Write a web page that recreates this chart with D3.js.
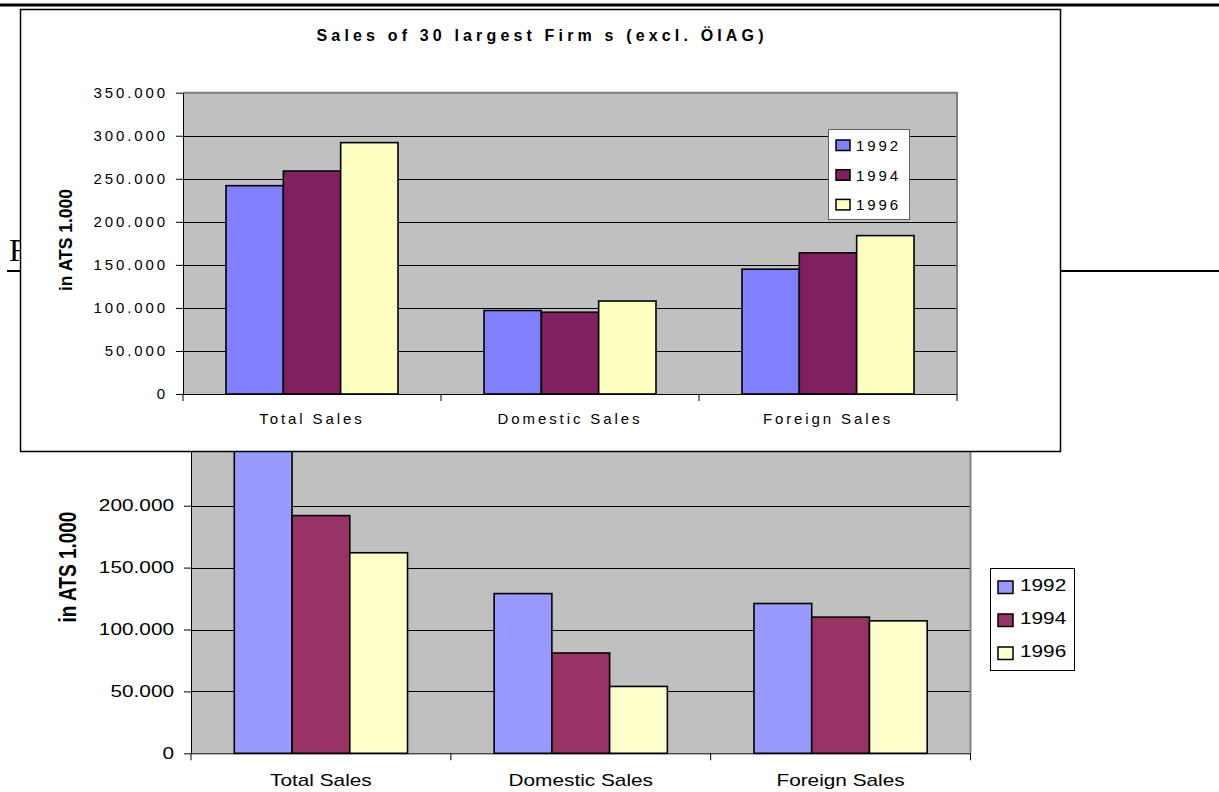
<!DOCTYPE html>
<html><head><meta charset="utf-8">
<script src="https://cdn.jsdelivr.net/npm/d3@7"></script>
<style>body{margin:0;background:#fff} svg{display:block}</style>
</head><body>
<svg id="c" width="1219" height="792"></svg>
<script>
// ---------- DATA ----------
const categories = ["Total Sales", "Domestic Sales", "Foreign Sales"];
const years = ["1992", "1994", "1996"];
// Top chart: Sales of 30 largest firms (excl. ÖIAG), in ATS 1.000
const top1992 = [242000, 97000, 145000];
const top1994 = [259000, 95000, 164000];
const top1996 = [292000, 108000, 184000];
// Bottom (partly hidden) chart
const bot1992 = [250000, 129000, 121000];
const bot1994 = [192000, 81000, 110000];
const bot1996 = [162000, 54000, 107000];
const topTicks = [0, 50000, 100000, 150000, 200000, 250000, 300000, 350000];
const botTicks = [0, 50000, 100000, 150000, 200000, 250000, 300000];
const topTitle = "Sales of 30 largest Firm s (excl. ÖIAG)";
const yTitle = "in ATS 1.000";
const pageLetter = "F";
const topColors = ["#8080FF", "#802060", "#FFFFC0"];
const botColors = ["#9999FF", "#993366", "#FFFFCC"];

const loc = d3.formatLocale({decimal: ",", thousands: ".", grouping: [3], currency: ["", ""]});
const fmt = loc.format(",d");
const FONT = "'Liberation Sans', Arial, sans-serif";

const svg = d3.select("#c");

function stretchX(sel, k) {
  sel.each(function () {
    const x = +(this.getAttribute("x") || 0);
    d3.select(this).attr("transform", `translate(${x * (1 - k)},0) scale(${k},1)`);
  });
}

// ---------- page background ----------
svg.append("line").attr("x1", 0).attr("x2", 1219).attr("y1", 5).attr("y2", 5)
  .attr("stroke", "#000").attr("stroke-width", 3);
svg.append("line").attr("x1", 7).attr("x2", 1219).attr("y1", 271).attr("y2", 271)
  .attr("stroke", "#000").attr("stroke-width", 2);
svg.append("text").attr("x", 9).attr("y", 261).text(pageLetter)
  .attr("font-family", "'Liberation Serif', 'Times New Roman', serif").attr("font-size", 32);

// ---------- generic chart ----------
function drawChart(g, o) {
  const y = d3.scaleLinear().domain([0, o.max]).range([o.y0, o.y1]);
  const x = d3.scaleBand().domain(categories).range([o.x0, o.x1]);
  const xs = d3.scaleBand().domain(years).range([0, x.bandwidth()]).paddingOuter(0.75).paddingInner(0);
  const series = o.series;

  g.append("rect").attr("x", o.x0).attr("y", o.y1).attr("width", o.x1 - o.x0).attr("height", o.y0 - o.y1)
    .attr("fill", "#C0C0C0");
  g.append("g").selectAll("line").data(o.ticks.filter(t => t > 0 && t < o.max)).join("line")
    .attr("x1", o.x0).attr("x2", o.x1).attr("y1", d => Math.round(y(d)) + 0.5).attr("y2", d => Math.round(y(d)) + 0.5)
    .attr("stroke", "#000").attr("stroke-width", 1);
  g.append("path").attr("d", `M${o.x0},${o.y1} H${o.x1} V${o.y0}`)
    .attr("fill", "none").attr("stroke", "#808080").attr("stroke-width", 2);
  years.forEach((yr, i) => {
    g.append("g").selectAll("rect").data(categories).join("rect")
      .attr("x", c => x(c) + xs(yr)).attr("width", xs.bandwidth())
      .attr("y", (c, j) => y(series[i][j])).attr("height", (c, j) => y(0) - y(series[i][j]))
      .attr("fill", o.colors[i]).attr("stroke", "#000").attr("stroke-width", 1.6);
  });
  const ya = g.append("g").attr("transform", `translate(${o.x0},0)`)
    .call(d3.axisLeft(y).tickValues(o.ticks).tickFormat(d => fmt(d)).tickSize(7).tickPadding(o.tickPad).tickSizeOuter(0));
  ya.select(".domain").attr("stroke", "#000");
  ya.selectAll(".tick line").attr("stroke", "#000");
  const yl = ya.selectAll(".tick text").attr("font-family", FONT).attr("font-size", o.fs)
    .attr("fill", "#000").attr("letter-spacing", o.ls);
  if (o.k !== 1) stretchX(yl, o.k);
  g.append("line").attr("x1", o.x0).attr("x2", o.x1).attr("y1", o.y0 + 0.5).attr("y2", o.y0 + 0.5).attr("stroke", "#000");
  const bounds = categories.map(c => x(c)).concat([x.range()[1]]);
  g.append("g").selectAll("line").data(bounds).join("line")
    .attr("x1", d => d).attr("x2", d => d).attr("y1", o.y0).attr("y2", o.y0 + 7).attr("stroke", "#000");
  const xl = g.append("g").selectAll("text").data(categories).join("text")
    .attr("x", c => x(c) + x.bandwidth() / 2).attr("y", o.xlY).attr("text-anchor", "middle")
    .attr("font-family", FONT).attr("font-size", o.fs).attr("letter-spacing", o.ls).text(c => c);
  if (o.k !== 1) stretchX(xl, o.k);
  g.append("text").attr("transform", o.yTitleT).attr("text-anchor", "middle")
    .attr("font-family", FONT).attr("font-weight", "bold").attr("font-size", o.ytFs).text(yTitle);
  const L = o.legend;
  g.append("rect").attr("x", L.x).attr("y", L.y).attr("width", L.w).attr("height", L.h)
    .attr("fill", "#fff").attr("stroke", L.stroke).attr("stroke-width", 1);
  years.forEach((yr, i) => {
    g.append("rect").attr("x", L.sx).attr("y", L.sy + i * L.step).attr("width", L.sw).attr("height", L.sh)
      .attr("fill", o.colors[i]).attr("stroke", "#000").attr("stroke-width", 1.5);
    const t = g.append("text").attr("x", L.tx).attr("y", L.ty + i * L.step)
      .attr("font-family", FONT).attr("font-size", o.fs).attr("letter-spacing", o.ls).text(yr);
    if (o.k !== 1) stretchX(t, o.k);
  });
}

// ---------- bottom (background) chart ----------
const gB = svg.append("g");
drawChart(gB, {
  x0: 191, x1: 970.5, y0: 753.3, y1: 753.3 - 6 * 61.9, max: 300000, ticks: botTicks,
  series: [bot1992, bot1994, bot1996], colors: botColors,
  fs: 16, ls: 0, k: 1.3, tickPad: 10, xlY: 786,
  ytFs: 19, yTitleT: "translate(76,567) scale(1.28,1) rotate(-90)",
  legend: {x: 990.5, y: 568.5, w: 84, h: 102, stroke: "#000", sx: 998, sy: 581, sw: 15, sh: 12.5, step: 33,
           tx: 1020, ty: 591}
});

// ---------- top chart box ----------
svg.append("rect").attr("x", 20.5).attr("y", 9.5).attr("width", 1040).attr("height", 442)
  .attr("fill", "#fff").attr("stroke", "#000").attr("stroke-width", 1.5);

const gT = svg.append("g");
drawChart(gT, {
  x0: 183, x1: 957, y0: 394, y1: 92.7, max: 350000, ticks: topTicks,
  series: [top1992, top1994, top1996], colors: topColors,
  fs: 15, ls: 2.9, k: 1, tickPad: 8, xlY: 424,
  ytFs: 17.5, yTitleT: "translate(72,240) rotate(-90)",
  legend: {x: 828.5, y: 129.5, w: 81, h: 90, stroke: "#606060", sx: 836, sy: 140, sw: 14, sh: 10.5, step: 29.7,
           tx: 856, ty: 151}
});
svg.append("text").attr("x", 540).attr("y", 41).attr("text-anchor", "middle")
  .attr("font-family", FONT).attr("font-weight", "bold").attr("font-size", 16)
  .attr("textLength", 447).attr("lengthAdjust", "spacing").text(topTitle);
</script>
</body></html>
